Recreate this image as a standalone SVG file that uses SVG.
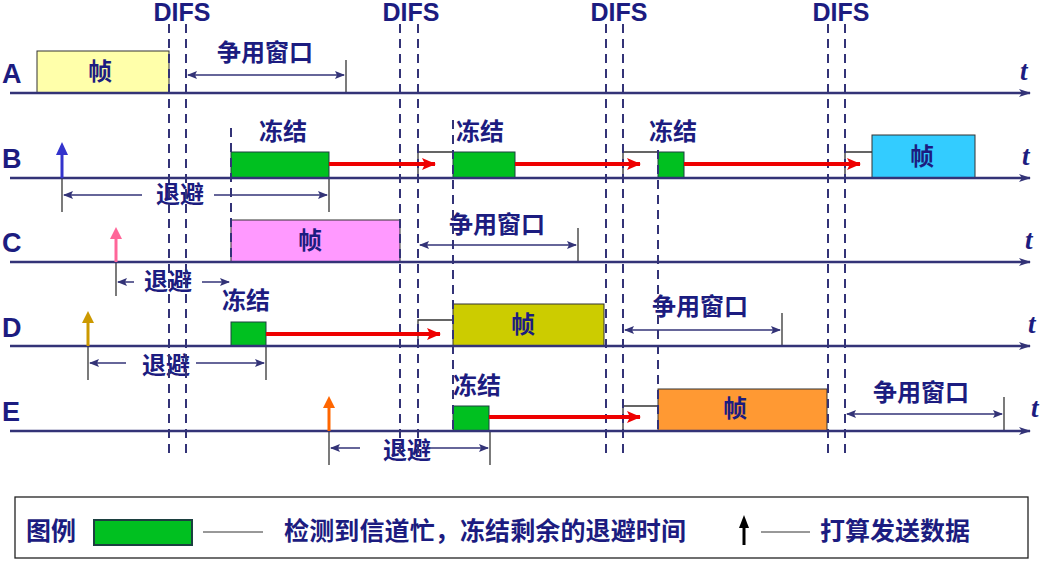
<svg xmlns="http://www.w3.org/2000/svg" width="1043" height="565" viewBox="0 0 1043 565">
<style>
text{font-family:"Liberation Sans","Noto Sans CJK SC",sans-serif;font-weight:bold;fill:#1c1c80}
.zh{font-size:24px;text-anchor:middle}
.lbl{font-size:27px}
.difl{font-size:25px;text-anchor:middle}
.t{font-size:27px;font-style:italic;font-family:"Liberation Serif",serif}
.leg{font-size:25px}
.axis{stroke:#333377;stroke-width:2.5;fill:none}
.difs{stroke:#333377;stroke-width:2;stroke-dasharray:9,6;fill:none}
.dim{stroke:#333377;stroke-width:1.5;fill:none}
.tick{stroke:#222;stroke-width:1.2}
.red{stroke:#e00;stroke-width:4;fill:none}
.box{fill:none;stroke:#333;stroke-width:1.3}
.green{fill:#00c020;stroke:#1c4040;stroke-width:1}
</style>
<defs>
<marker id="ax" markerWidth="12" markerHeight="8" refX="11" refY="4" orient="auto" markerUnits="userSpaceOnUse"><path d="M0,0 L12,4 L0,8 L3,4z" fill="#333377"/></marker>
<marker id="dh" markerWidth="10" markerHeight="8" refX="9" refY="4" orient="auto-start-reverse" markerUnits="userSpaceOnUse"><path d="M0,0 L10,4 L0,8 L2,4z" fill="#333377"/></marker>
<marker id="rh" markerWidth="14" markerHeight="12" refX="13" refY="6" orient="auto" markerUnits="userSpaceOnUse"><path d="M0,0 L14,6 L0,12 L3,6z" fill="#e00"/></marker>
</defs>
<rect width="1043" height="565" fill="#fff"/>
<g id="difs">
<text x="182" y="21" class="difl">DIFS</text>
<text x="411" y="21" class="difl">DIFS</text>
<text x="619" y="21" class="difl">DIFS</text>
<text x="841" y="21" class="difl">DIFS</text>
</g>
<g id="A">
<rect x="37" y="51" width="132" height="42" fill="#ffffaa" stroke="#333" stroke-width="1"/>
<text x="100" y="80" class="zh">帧</text>
<text x="265" y="61" class="zh">争用窗口</text>
<line x1="346" y1="60" x2="346" y2="93" class="tick"/>
<text x="2" y="83" class="lbl">A</text>
<text x="1020" y="80" class="t">t</text>
</g>
<g id="B">
<rect x="231" y="152" width="98" height="26" class="green"/>
<path d="M418,178 V152 H453" class="box"/>
<rect x="453" y="152" width="62" height="26" class="green"/>
<path d="M623,178 V152 H658" class="box"/>
<rect x="658" y="152" width="26" height="26" class="green"/>
<path d="M845,178 V152 H872" class="box"/>
<rect x="872" y="135" width="103" height="43" fill="#33ccff" stroke="#333" stroke-width="1"/>
<text x="922" y="165" class="zh">帧</text>
<text x="283" y="140" class="zh">冻结</text>
<text x="480" y="140" class="zh">冻结</text>
<text x="673" y="140" class="zh">冻结</text>
<text x="180" y="203" class="zh">退避</text>
<line x1="62" y1="178" x2="62" y2="212" class="tick"/>
<line x1="329" y1="178" x2="329" y2="212" class="tick"/>
<text x="2" y="168" class="lbl">B</text>
<text x="1022" y="165" class="t">t</text>
</g>
<g id="C">
<rect x="231" y="220" width="169" height="42" fill="#ff99ff" stroke="#333" stroke-width="1"/>
<text x="310" y="249" class="zh">帧</text>
<text x="497" y="233" class="zh">争用窗口</text>
<line x1="578" y1="228" x2="578" y2="262" class="tick"/>
<text x="168" y="290" class="zh">退避</text>
<line x1="116" y1="262" x2="116" y2="296" class="tick"/>
<text x="2" y="252" class="lbl">C</text>
<text x="1025" y="249" class="t">t</text>
</g>
<g id="D">
<rect x="231" y="322" width="35" height="24" class="green"/>
<text x="246" y="309" class="zh">冻结</text>
<path d="M418,346 V320 H453" class="box"/>
<rect x="453" y="304" width="151" height="42" fill="#cccc00" stroke="#333" stroke-width="1"/>
<text x="523" y="333" class="zh">帧</text>
<text x="700" y="315" class="zh">争用窗口</text>
<line x1="782" y1="313" x2="782" y2="346" class="tick"/>
<text x="166" y="374" class="zh">退避</text>
<line x1="88" y1="346" x2="88" y2="380" class="tick"/>
<line x1="266" y1="346" x2="266" y2="380" class="tick"/>
<text x="2" y="337" class="lbl">D</text>
<text x="1028" y="333" class="t">t</text>
</g>
<g id="E">
<rect x="453" y="406" width="36" height="25" class="green"/>
<text x="477" y="394" class="zh">冻结</text>
<path d="M623,431 V406 H658" class="box"/>
<rect x="658" y="389" width="169" height="42" fill="#ff9933" stroke="#333" stroke-width="1"/>
<text x="735" y="417" class="zh">帧</text>
<text x="921" y="401" class="zh">争用窗口</text>
<line x1="1004" y1="397" x2="1004" y2="431" class="tick"/>
<text x="407" y="459" class="zh">退避</text>
<line x1="329" y1="431" x2="329" y2="465" class="tick"/>
<line x1="490" y1="431" x2="490" y2="465" class="tick"/>
<text x="2" y="421" class="lbl">E</text>
<text x="1031" y="417" class="t">t</text>
</g>
<g id="connectors">
<line x1="10" y1="93" x2="1030" y2="93" class="axis" marker-end="url(#ax)"/>
<line x1="10" y1="178" x2="1030" y2="178" class="axis" marker-end="url(#ax)"/>
<line x1="10" y1="262" x2="1030" y2="262" class="axis" marker-end="url(#ax)"/>
<line x1="10" y1="346" x2="1030" y2="346" class="axis" marker-end="url(#ax)"/>
<line x1="10" y1="431" x2="1030" y2="431" class="axis" marker-end="url(#ax)"/>
<path d="M169,24V458 M186,24V458 M400,24V458 M418,24V458 M606,24V458 M623,24V458 M828,24V458 M845,24V458" class="difs"/>
<path d="M231,128V262 M453,120V431 M658,150V431" class="difs"/>
<line x1="188" y1="75" x2="344" y2="75" class="dim" marker-start="url(#dh)" marker-end="url(#dh)"/>
<line x1="420" y1="245" x2="576" y2="245" class="dim" marker-start="url(#dh)" marker-end="url(#dh)"/>
<line x1="625" y1="330" x2="780" y2="330" class="dim" marker-start="url(#dh)" marker-end="url(#dh)"/>
<line x1="847" y1="414" x2="1002" y2="414" class="dim" marker-start="url(#dh)" marker-end="url(#dh)"/>
<line x1="64" y1="195" x2="142" y2="195" class="dim" marker-start="url(#dh)"/>
<line x1="214" y1="195" x2="327" y2="195" class="dim" marker-end="url(#dh)"/>
<line x1="118" y1="282" x2="134" y2="282" class="dim" marker-start="url(#dh)"/>
<line x1="202" y1="282" x2="229" y2="282" class="dim" marker-end="url(#dh)"/>
<line x1="90" y1="363" x2="126" y2="363" class="dim" marker-start="url(#dh)"/>
<line x1="196" y1="363" x2="264" y2="363" class="dim" marker-end="url(#dh)"/>
<line x1="331" y1="448" x2="360" y2="448" class="dim" marker-start="url(#dh)"/>
<line x1="428" y1="448" x2="488" y2="448" class="dim" marker-end="url(#dh)"/>
<line x1="329" y1="164" x2="435" y2="164" class="red" marker-end="url(#rh)"/>
<line x1="515" y1="164" x2="640" y2="164" class="red" marker-end="url(#rh)"/>
<line x1="684" y1="164" x2="860" y2="164" class="red" marker-end="url(#rh)"/>
<line x1="266" y1="334" x2="440" y2="334" class="red" marker-end="url(#rh)"/>
<line x1="489" y1="417" x2="640" y2="417" class="red" marker-end="url(#rh)"/>
<path d="M62,178V152" stroke="#3333cc" stroke-width="3"/><path d="M56,155L62,142L68,155z" fill="#3333cc"/>
<path d="M116,262V236" stroke="#ff6699" stroke-width="3"/><path d="M110,239L116,227L122,239z" fill="#ff6699"/>
<path d="M88,346V320" stroke="#cc9900" stroke-width="3"/><path d="M82,323L88,311L94,323z" fill="#cc9900"/>
<path d="M329,431V405" stroke="#ff6600" stroke-width="3"/><path d="M323,408L329,396L335,408z" fill="#ff6600"/>
</g>
<g id="legend">
<rect x="15" y="497" width="1013" height="61" fill="none" stroke="#222" stroke-width="1.3"/>
<text x="26" y="540" class="leg">图例</text>
<rect x="94" y="520" width="98" height="25" fill="#00c020" stroke="#1c4040" stroke-width="2"/>
<line x1="203" y1="532" x2="263" y2="532" stroke="#333" stroke-width="1"/>
<text x="284" y="540" class="leg" textLength="402">检测到信道忙，冻结剩余的退避时间</text>
<path d="M744,545V526" stroke="#000" stroke-width="3"/><path d="M739,528L744,515L749,528z" fill="#000"/>
<line x1="761" y1="532" x2="810" y2="532" stroke="#333" stroke-width="1"/>
<text x="820" y="540" class="leg">打算发送数据</text>
</g>
</svg>
